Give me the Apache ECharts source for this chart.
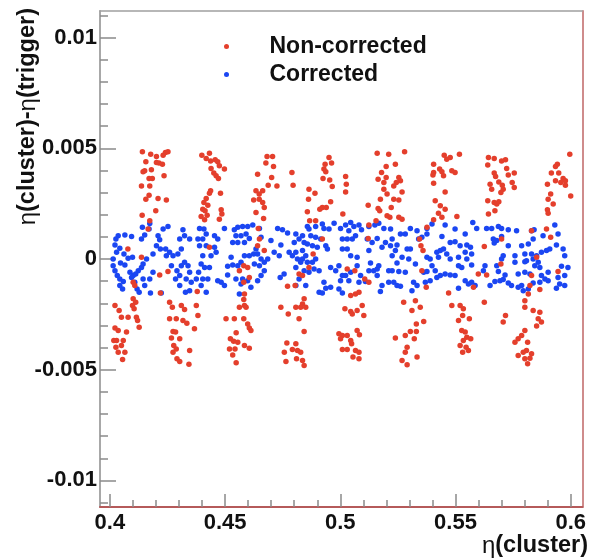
<!DOCTYPE html>
<html>
<head>
<meta charset="utf-8">
<script src="https://cdn.jsdelivr.net/npm/echarts@6/dist/echarts.min.js"></script>
<style>
html,body{margin:0;padding:0;background:#fff;}
#chart{width:589px;height:560px;}
</style>
</head>
<body>
<div id="chart"></div>
<script>
// ---- axis ranges / ticks ----
const xRange = [0.3957, 0.6051];
const yRange = [-0.0112, 0.0112];
const xMajorTicks = [0.4, 0.45, 0.5, 0.55, 0.6];
const xTickLabels = ['0.4', '0.45', '0.5', '0.55', '0.6'];
const xMinorTicks = [0.40,0.41,0.42,0.43,0.44,0.45,0.46,0.47,0.48,0.49,0.50,0.51,0.52,0.53,0.54,0.55,0.56,0.57,0.58,0.59,0.60];
const yMajorTicks = [-0.01, -0.005, 0, 0.005, 0.01];
const yTickLabels = ['-0.01', '-0.005', '0', '0.005', '0.01'];
const yMinorTicks = [-0.011,-0.010,-0.009,-0.008,-0.007,-0.006,-0.005,-0.004,-0.003,-0.002,-0.001,0,0.001,0.002,0.003,0.004,0.005,0.006,0.007,0.008,0.009,0.010,0.011];
const seriesNames = ['Non-corrected', 'Corrected'];

// ---- data: [eta(cluster), eta(cluster)-eta(trigger)] ----
const nonCorrected = [
[0.4141,0.00484],[0.4177,0.00473],[0.4241,0.00481],[0.4252,0.00484],[0.4231,0.00469],[0.4202,0.00463],[0.4213,0.00433],[0.4228,0.00428],[0.4202,0.00436],[0.4156,0.00439],[0.4151,0.00398],[0.4144,0.00394],[0.4180,0.00403],[0.4170,0.00363],[0.4184,0.00363],[0.4235,0.00376],[0.4137,0.00330],[0.4173,0.00330],[0.4156,0.00270],[0.4170,0.00288],[0.4209,0.00273],[0.4245,0.00267],[0.4199,0.00218],[0.4140,0.00198],[0.4173,0.00173],[0.4166,0.00135],[0.4078,0.00045],[0.4137,0.00008],[0.4101,-0.00105],[0.4108,-0.00120],[0.4216,-0.00072],[0.4252,-0.00057],[0.4219,-0.00153],[0.4101,-0.00180],[0.4112,-0.00195],[0.4098,-0.00210],[0.4105,-0.00225],[0.4022,-0.00210],[0.4040,-0.00233],[0.4050,-0.00263],[0.4079,-0.00263],[0.4115,-0.00263],[0.4120,-0.00278],[0.4022,-0.00312],[0.4036,-0.00323],[0.4072,-0.00330],[0.4127,-0.00308],[0.4017,-0.00368],[0.4029,-0.00368],[0.4058,-0.00368],[0.4026,-0.00398],[0.4050,-0.00391],[0.4036,-0.00421],[0.4065,-0.00421],[0.4055,-0.00454],
[0.4259,-0.00195],[0.4271,-0.00218],[0.4310,-0.00210],[0.4324,-0.00228],[0.4259,-0.00270],[0.4288,-0.00270],[0.4317,-0.00278],[0.4334,-0.00290],[0.4274,-0.00327],[0.4285,-0.00330],[0.4267,-0.00357],[0.4303,-0.00360],[0.4277,-0.00391],[0.4288,-0.00406],[0.4346,-0.00413],[0.4274,-0.00421],[0.4291,-0.00451],[0.4303,-0.00463],[0.4343,-0.00475],
[0.4399,0.00469],[0.4432,0.00478],[0.4418,0.00454],[0.4437,0.00443],[0.4457,0.00448],[0.4468,0.00439],[0.4475,0.00421],[0.4439,0.00409],[0.4497,0.00406],[0.4451,0.00388],[0.4461,0.00376],[0.4471,0.00363],[0.4437,0.00308],[0.4432,0.00297],[0.4480,0.00297],[0.4418,0.00273],[0.4408,0.00255],[0.4425,0.00243],[0.4403,0.00225],[0.4413,0.00218],[0.4422,0.00198],[0.4396,0.00192],[0.4483,0.00222],[0.4486,0.00203],[0.4475,0.00180],[0.4411,0.00177],[0.4432,0.00053],[0.4379,-0.00147],[0.4375,-0.00210],[0.4382,-0.00255],[0.4367,-0.00315],
[0.4581,-0.00030],[0.4598,-0.00038],[0.4641,0.00060],[0.4670,0.00038],[0.4605,-0.00083],[0.4562,-0.00053],[0.4581,-0.00105],[0.4584,-0.00158],[0.4581,-0.00183],[0.4584,-0.00210],[0.4562,-0.00218],[0.4591,-0.00218],[0.4504,-0.00270],[0.4540,-0.00270],[0.4581,-0.00270],[0.4598,-0.00293],[0.4605,-0.00312],[0.4612,-0.00323],[0.4548,-0.00333],[0.4523,-0.00360],[0.4537,-0.00372],[0.4555,-0.00376],[0.4584,-0.00391],[0.4605,-0.00403],[0.4519,-0.00406],[0.4543,-0.00406],[0.4533,-0.00433],[0.4548,-0.00469],
[0.4682,0.00463],[0.4706,0.00463],[0.4677,0.00433],[0.4710,0.00418],[0.4641,0.00383],[0.4702,0.00368],[0.4687,0.00333],[0.4725,0.00330],[0.4634,0.00308],[0.4663,0.00308],[0.4648,0.00293],[0.4624,0.00267],[0.4648,0.00270],[0.4663,0.00255],[0.4670,0.00233],[0.4634,0.00210],[0.4667,0.00183],[0.4644,0.00138],[0.4649,0.00090],
[0.4742,-0.00218],[0.4774,-0.00248],[0.4771,-0.00123],[0.4768,-0.00379],[0.4757,-0.00421],[0.4764,-0.00463],
[0.4790,0.00391],[0.4795,0.00333],[0.4951,0.00458],[0.4934,0.00428],[0.4962,0.00433],[0.4929,0.00406],[0.4937,0.00394],[0.4925,0.00363],[0.4954,0.00357],[0.4965,0.00327],[0.4864,0.00315],[0.4890,0.00297],[0.4862,0.00270],[0.4958,0.00258],[0.4922,0.00233],[0.4939,0.00233],[0.4911,0.00225],[0.4857,0.00213],[0.4867,0.00173],[0.4893,0.00173],[0.4922,0.00090],[0.4882,0.00023],[0.4864,-0.00038],[0.4821,-0.00068],[0.4836,-0.00075],
[0.4804,-0.00120],[0.4843,-0.00180],[0.4836,-0.00203],[0.4807,-0.00218],[0.4828,-0.00218],[0.4850,-0.00218],[0.4821,-0.00270],[0.4843,-0.00327],[0.4807,-0.00383],[0.4792,-0.00409],[0.4814,-0.00413],[0.4828,-0.00421],[0.4810,-0.00451],[0.4836,-0.00458],[0.4843,-0.00481],
[0.5011,0.00203],[0.5023,0.00373],[0.5026,0.00338],[0.5023,0.00303],[0.5030,-0.00045],[0.5063,-0.00053],[0.5045,-0.00165],[0.5066,-0.00158],[0.5081,-0.00150],[0.5020,-0.00225],[0.5045,-0.00237],[0.5052,-0.00248],[0.5073,-0.00233],[0.5095,-0.00210],[0.5102,-0.00255],[0.4994,-0.00338],[0.5009,-0.00345],[0.5030,-0.00345],[0.5001,-0.00360],[0.5045,-0.00368],[0.5049,-0.00383],[0.5009,-0.00409],[0.5030,-0.00409],[0.5066,-0.00413],[0.5081,-0.00421],[0.5073,-0.00323],[0.5083,-0.00342],[0.5055,-0.00443],[0.5081,-0.00451],
[0.5160,0.00478],[0.5199,0.00418],[0.5179,0.00391],[0.5164,0.00360],[0.5199,0.00368],[0.5189,0.00345],[0.5189,0.00315],[0.5203,0.00293],[0.5174,0.00270],[0.5121,0.00243],[0.5164,0.00228],[0.5171,0.00218],[0.5203,0.00195],[0.5155,0.00173],[0.5124,0.00153],[0.5121,0.00093],[0.5106,-0.00090],[0.5124,-0.00105],
[0.5210,0.00473],[0.5239,0.00428],[0.5279,0.00484],[0.5254,0.00368],[0.5261,0.00353],[0.5243,0.00345],[0.5232,0.00330],[0.5268,0.00303],[0.5232,0.00270],[0.5254,0.00267],[0.5221,0.00233],[0.5215,0.00188],[0.5254,0.00188],[0.5268,0.00180],
[0.5451,0.00469],[0.5462,0.00451],[0.5477,0.00458],[0.5517,0.00473],[0.5405,0.00428],[0.5431,0.00406],[0.5405,0.00391],[0.5402,0.00379],[0.5441,0.00394],[0.5448,0.00376],[0.5484,0.00398],[0.5498,0.00391],[0.5405,0.00342],[0.5455,0.00303],[0.5412,0.00263],[0.5434,0.00240],[0.5455,0.00225],[0.5426,0.00207],[0.5441,0.00188],[0.5506,0.00192],[0.5405,0.00177],[0.5376,0.00143],
[0.5344,0.00090],[0.5350,0.00060],[0.5359,0.00038],[0.5354,-0.00053],[0.5373,-0.00128],[0.5599,-0.00068],[0.5578,-0.00128],
[0.5275,-0.00195],[0.5326,-0.00188],[0.5311,-0.00233],[0.5347,-0.00218],[0.5362,-0.00282],[0.5330,-0.00293],[0.5304,-0.00327],[0.5330,-0.00327],[0.5282,-0.00345],[0.5239,-0.00357],[0.5321,-0.00360],[0.5290,-0.00398],[0.5282,-0.00421],[0.5333,-0.00443],[0.5268,-0.00458],[0.5290,-0.00478],
[0.5470,-0.00153],[0.5484,-0.00210],[0.5520,-0.00210],[0.5534,-0.00225],[0.5531,-0.00255],[0.5513,-0.00278],[0.5560,-0.00270],[0.5527,-0.00323],[0.5542,-0.00330],[0.5549,-0.00353],[0.5534,-0.00368],[0.5566,-0.00360],[0.5520,-0.00391],[0.5546,-0.00398],[0.5531,-0.00421],[0.5556,-0.00413],
[0.5643,0.00458],[0.5668,0.00454],[0.5700,0.00443],[0.5717,0.00448],[0.5640,0.00424],[0.5722,0.00409],[0.5668,0.00388],[0.5674,0.00373],[0.5729,0.00379],[0.5755,0.00388],[0.5688,0.00348],[0.5650,0.00338],[0.5703,0.00333],[0.5746,0.00345],[0.5657,0.00315],[0.5707,0.00315],[0.5755,0.00323],[0.5697,0.00300],[0.5640,0.00263],[0.5668,0.00255],[0.5679,0.00248],[0.5688,0.00258],[0.5643,0.00203],[0.5671,0.00218],
[0.5996,0.00473],[0.5942,0.00428],[0.5934,0.00418],[0.5916,0.00388],[0.5948,0.00388],[0.5967,0.00363],[0.5977,0.00353],[0.5934,0.00353],[0.5957,0.00345],[0.5899,0.00338],[0.5977,0.00333],[0.5913,0.00293],[0.5902,0.00270],[0.5924,0.00248],[0.5899,0.00222],[0.5902,0.00207],[0.6000,0.00285],
[0.5830,0.00128],[0.5895,0.00135],[0.5913,0.00098],[0.5700,0.00090],[0.5625,0.00057],[0.5852,0.00008],[0.5697,-0.00023],[0.5830,-0.00075],[0.5945,-0.00057],[0.5635,-0.00072],[0.5823,-0.00120],[0.5816,-0.00158],[0.5866,-0.00138],[0.5801,-0.00188],[0.5801,-0.00218],[0.5625,-0.00195],[0.5837,-0.00233],[0.5866,-0.00240],[0.5859,-0.00270],[0.5873,-0.00285],[0.5852,-0.00303],[0.5717,-0.00255],[0.5707,-0.00285],[0.5801,-0.00323],[0.5787,-0.00345],[0.5772,-0.00360],[0.5758,-0.00376],[0.5813,-0.00376],[0.5808,-0.00413],[0.5794,-0.00421],[0.5772,-0.00436],[0.5801,-0.00451],[0.5823,-0.00448],[0.5830,-0.00428],[0.5813,-0.00473]
];

const corrected = [
[0.4036,0.00105],[0.4065,0.00108],[0.4094,0.00102],[0.4022,0.00063],[0.4043,0.00048],[0.4029,0.00030],[0.4061,0.00023],[0.4079,0.00003],[0.4098,0.00008],[0.4014,0.00000],[0.4046,-0.00018],[0.4065,-0.00027],[0.4022,-0.00053],[0.4032,-0.00075],[0.4043,-0.00090],[0.4058,-0.00102],[0.4087,-0.00060],[0.4101,-0.00075],[0.4112,-0.00068],[0.4123,-0.00053],[0.4137,-0.00038],[0.4144,-0.00023],[0.4159,0.00000],[0.4187,0.00023],[0.4137,0.00090],[0.4151,0.00108],[0.4170,0.00135],[0.4141,0.00143],[0.4173,0.00160],[0.4108,-0.00105],[0.4118,-0.00135],[0.4127,-0.00150],[0.4055,-0.00135],[0.4176,-0.00153],[0.4223,-0.00153],[0.4209,0.00105],[0.4216,0.00087],[0.4231,0.00135],[0.4252,0.00147],[0.4219,0.00045],[0.4242,0.00045],[0.4259,0.00030],[0.4274,0.00015],[0.4295,0.00023],[0.4310,0.00045],[0.4303,0.00090],[0.4317,0.00132],[0.4324,0.00105],[0.4346,0.00090],[0.4310,-0.00030],[0.4324,-0.00015],[0.4339,-0.00030],[0.4291,-0.00053],[0.4303,-0.00075],[0.4285,-0.00090],[0.4303,-0.00120],[0.4328,-0.00150],[0.4346,-0.00143],[0.4353,-0.00105],[0.4346,-0.00060],[0.4173,-0.00090],[0.4187,-0.00060],[0.4144,-0.00090],[0.4151,-0.00120],[0.4094,-0.00083],[0.4043,-0.00120],[0.4014,-0.00030],[0.4026,0.00090],[0.4245,0.00015],[0.4202,0.00060],[0.4267,-0.00030],[0.4331,-0.00090],
[0.4389,0.00138],[0.4408,0.00135],[0.4418,0.00113],[0.4403,0.00090],[0.4382,0.00090],[0.4389,0.00060],[0.4418,0.00060],[0.4454,0.00105],[0.4468,0.00090],[0.4497,0.00138],[0.4540,0.00132],[0.4555,0.00143],[0.4576,0.00147],[0.4598,0.00147],[0.4620,0.00153],[0.4649,0.00138],[0.4547,0.00105],[0.4569,0.00105],[0.4591,0.00113],[0.4605,0.00093],[0.4533,0.00075],[0.4555,0.00075],[0.4584,0.00075],[0.4656,0.00098],[0.4699,0.00083],[0.4742,0.00063],[0.4749,0.00132],[0.4728,0.00138],[0.4771,0.00117],[0.4454,0.00053],[0.4461,0.00030],[0.4439,0.00015],[0.4403,0.00015],[0.4396,-0.00023],[0.4411,-0.00038],[0.4432,-0.00038],[0.4385,-0.00060],[0.4375,-0.00090],[0.4403,-0.00090],[0.4425,-0.00090],[0.4468,-0.00098],[0.4483,-0.00105],[0.4497,-0.00120],[0.4511,-0.00072],[0.4511,-0.00033],[0.4533,-0.00027],[0.4555,-0.00030],[0.4569,-0.00015],[0.4584,0.00015],[0.4605,0.00015],[0.4624,0.00023],[0.4641,0.00023],[0.4656,0.00000],[0.4627,-0.00023],[0.4649,-0.00030],[0.4670,-0.00015],[0.4685,0.00000],[0.4713,0.00030],[0.4735,0.00015],[0.4670,-0.00053],[0.4656,-0.00075],[0.4641,-0.00098],[0.4612,-0.00128],[0.4598,-0.00098],[0.4576,-0.00090],[0.4547,-0.00090],[0.4569,-0.00113],[0.4562,-0.00158],[0.4418,-0.00150],[0.4396,-0.00120],[0.4756,-0.00068],[0.4739,-0.00083],[0.4526,0.00008],[0.4634,0.00045],
[0.4807,0.00113],[0.4836,0.00105],[0.4864,0.00135],[0.4857,0.00147],[0.4893,0.00147],[0.4922,0.00158],[0.4973,0.00162],[0.5001,0.00138],[0.5023,0.00153],[0.5045,0.00165],[0.5059,0.00147],[0.5081,0.00153],[0.5092,0.00132],[0.5124,0.00147],[0.5150,0.00153],[0.5167,0.00162],[0.5189,0.00138],[0.4929,0.00138],[0.4951,0.00135],[0.4821,0.00090],[0.4843,0.00075],[0.4800,0.00075],[0.4872,0.00105],[0.4893,0.00098],[0.4915,0.00090],[0.4937,0.00060],[0.4944,0.00045],[0.4900,0.00053],[0.4879,0.00060],[0.4857,0.00068],[0.4836,0.00038],[0.4850,0.00015],[0.4807,0.00030],[0.4778,0.00030],[0.4792,0.00015],[0.4814,0.00000],[0.4836,0.00000],[0.4828,-0.00015],[0.4807,-0.00038],[0.4857,-0.00015],[0.4879,-0.00015],[0.4893,0.00000],[0.4843,-0.00053],[0.4864,-0.00060],[0.4886,-0.00045],[0.4908,-0.00053],[0.4821,-0.00090],[0.4807,-0.00120],[0.4850,-0.00120],[0.5009,0.00090],[0.5030,0.00090],[0.5052,0.00090],[0.5066,0.00105],[0.5037,0.00128],[0.5009,0.00045],[0.5030,0.00045],[0.5045,0.00015],[0.5073,0.00008],[0.5117,0.00090],[0.5138,0.00075],[0.5160,0.00093],[0.5181,0.00053],[0.5196,0.00075],[0.5124,0.00038],[0.4958,-0.00038],[0.4980,-0.00053],[0.4994,-0.00030],[0.5009,-0.00075],[0.5023,-0.00075],[0.5001,-0.00098],[0.5037,-0.00098],[0.5045,-0.00060],[0.5073,-0.00030],[0.5088,-0.00075],[0.4929,-0.00105],[0.4937,-0.00132],[0.4958,-0.00128],[0.4908,-0.00150],[0.4922,-0.00153],[0.4994,-0.00135],[0.5009,-0.00153],[0.5081,-0.00105],[0.5109,-0.00102],[0.5131,-0.00018],[0.5124,-0.00053],[0.5145,-0.00053],[0.5160,-0.00045],[0.5167,-0.00030],[0.5160,-0.00075],[0.5181,-0.00120],[0.5174,-0.00147],
[0.5218,0.00135],[0.5261,0.00113],[0.5282,0.00113],[0.5304,0.00138],[0.5333,0.00128],[0.5376,0.00138],[0.5398,0.00158],[0.5455,0.00153],[0.5498,0.00135],[0.5542,0.00113],[0.5575,0.00165],[0.5592,0.00138],[0.5225,0.00090],[0.5246,0.00063],[0.5218,0.00060],[0.5340,0.00090],[0.5354,0.00098],[0.5376,0.00113],[0.5441,0.00102],[0.5477,0.00075],[0.5498,0.00078],[0.5520,0.00060],[0.5549,0.00063],[0.5565,0.00053],[0.5542,0.00030],[0.5570,0.00023],[0.5239,0.00038],[0.5268,0.00008],[0.5290,0.00045],[0.5304,0.00045],[0.5376,0.00008],[0.5390,0.00000],[0.5419,0.00030],[0.5434,0.00038],[0.5448,0.00045],[0.5462,0.00023],[0.5426,0.00008],[0.5477,0.00000],[0.5513,0.00008],[0.5527,-0.00038],[0.5549,0.00000],[0.5570,-0.00027],[0.5225,0.00015],[0.5246,-0.00018],[0.5297,0.00000],[0.5326,-0.00023],[0.5210,-0.00053],[0.5225,-0.00053],[0.5254,-0.00057],[0.5282,-0.00060],[0.5362,-0.00060],[0.5376,-0.00057],[0.5398,-0.00030],[0.5412,-0.00053],[0.5434,-0.00075],[0.5455,-0.00068],[0.5477,-0.00072],[0.5498,-0.00075],[0.5513,-0.00030],[0.5210,-0.00105],[0.5232,-0.00105],[0.5246,-0.00120],[0.5261,-0.00123],[0.5318,-0.00105],[0.5333,-0.00120],[0.5369,-0.00105],[0.5390,-0.00098],[0.5419,-0.00083],[0.5542,-0.00098],[0.5556,-0.00113],[0.5570,-0.00105],[0.5513,-0.00132],[0.5311,-0.00143],[0.5585,-0.00120],
[0.5635,0.00138],[0.5657,0.00138],[0.5686,0.00147],[0.5700,0.00138],[0.5729,0.00132],[0.5765,0.00128],[0.5931,0.00153],[0.5664,0.00090],[0.5679,0.00083],[0.5700,0.00102],[0.5668,0.00072],[0.5729,0.00060],[0.5830,0.00128],[0.5841,0.00132],[0.5880,0.00105],[0.5837,0.00090],[0.5816,0.00068],[0.5787,0.00060],[0.5945,0.00113],[0.5938,0.00063],[0.5967,0.00045],[0.5909,0.00045],[0.5895,0.00038],[0.5873,0.00030],[0.5707,0.00015],[0.5700,0.00000],[0.5758,0.00015],[0.5801,0.00023],[0.5830,0.00023],[0.5852,0.00015],[0.5808,-0.00008],[0.5837,0.00000],[0.5859,-0.00015],[0.5844,-0.00030],[0.5866,-0.00038],[0.5974,0.00015],[0.5628,-0.00030],[0.5679,-0.00030],[0.5758,-0.00015],[0.5801,-0.00012],[0.5621,-0.00053],[0.5686,-0.00057],[0.5715,-0.00072],[0.5772,-0.00068],[0.5801,-0.00060],[0.5823,-0.00068],[0.5873,-0.00075],[0.5902,-0.00060],[0.5960,-0.00033],[0.5988,-0.00038],[0.5671,-0.00102],[0.5650,-0.00120],[0.5693,-0.00098],[0.5729,-0.00108],[0.5743,-0.00120],[0.5772,-0.00128],[0.5794,-0.00143],[0.5787,-0.00120],[0.5816,-0.00135],[0.5837,-0.00108],[0.5866,-0.00105],[0.5888,-0.00090],[0.5902,-0.00098],[0.5945,-0.00083],[0.5974,-0.00075],[0.5952,-0.00113],[0.5974,-0.00120],[0.5938,-0.00132],[0.5707,-0.00093]
];

// ---- styling ----
const FONT = '"Liberation Sans", Arial, Helvetica, sans-serif';
const RED = '#e43f2c';
const BLUE = '#1b46f2';
const TICK = '#8a8a8a';

const chart = echarts.init(document.getElementById('chart'), null, {renderer: 'canvas'});

function lbl(values, labels) {
  return v => {
    for (let i = 0; i < values.length; i++) if (Math.abs(values[i] - v) < 1e-9) return labels[i];
    return '';
  };
}

const baseAxis = {
  splitLine: {show: false},
  axisLabel: {show: false},
  axisTick: {show: false},
  axisLine: {show: false, onZero: false}
};

chart.setOption({
  animation: false,
  backgroundColor: '#ffffff',
  grid: {left: 100, top: 11, width: 484, height: 496, containLabel: false},
  legend: {
    orient: 'vertical',
    left: 219,
    top: 30,
    itemWidth: 76,
    itemHeight: 5,
    itemGap: 5,
    icon: 'circle',
    textStyle: {fontFamily: FONT, fontWeight: 'bold', fontSize: 23, color: '#111'},
    data: seriesNames
  },
  xAxis: [
    Object.assign({}, baseAxis, {
      type: 'value', min: xRange[0], max: xRange[1], position: 'bottom',
      axisLine: {show: true, onZero: false, lineStyle: {color: '#b55a5a', width: 2}},
      axisTick: {show: true, inside: true, length: 13, customValues: xMajorTicks, lineStyle: {color: TICK, width: 1.5}},
      axisLabel: {show: true, customValues: xMajorTicks, formatter: lbl(xMajorTicks, xTickLabels), margin: 5,
        fontFamily: FONT, fontWeight: 'bold', fontSize: 22, color: '#111'}
    }),
    Object.assign({}, baseAxis, {
      type: 'value', min: xRange[0], max: xRange[1], position: 'bottom',
      axisTick: {show: true, inside: true, length: 7, customValues: xMinorTicks, lineStyle: {color: TICK, width: 1.5}}
    }),
    Object.assign({}, baseAxis, {
      type: 'value', min: xRange[0], max: xRange[1], position: 'top',
      axisLine: {show: true, onZero: false, lineStyle: {color: '#a0a0a0', width: 1.5}}
    })
  ],
  yAxis: [
    Object.assign({}, baseAxis, {
      type: 'value', min: yRange[0], max: yRange[1], position: 'left',
      axisLine: {show: true, onZero: false, lineStyle: {color: '#a8a8a8', width: 2}},
      axisTick: {show: true, inside: true, length: 16, customValues: yMajorTicks, lineStyle: {color: TICK, width: 1.5}},
      axisLabel: {show: true, customValues: yMajorTicks, formatter: lbl(yMajorTicks, yTickLabels), margin: 3,
        fontFamily: FONT, fontWeight: 'bold', fontSize: 22, color: '#111'}
    }),
    Object.assign({}, baseAxis, {
      type: 'value', min: yRange[0], max: yRange[1], position: 'left',
      axisTick: {show: true, inside: true, length: 8, customValues: yMinorTicks, lineStyle: {color: TICK, width: 1.5}}
    }),
    Object.assign({}, baseAxis, {
      type: 'value', min: yRange[0], max: yRange[1], position: 'right',
      axisLine: {show: true, onZero: false, lineStyle: {color: '#cf8c8c', width: 2}}
    })
  ],
  series: [
    {name: seriesNames[0], type: 'scatter', data: nonCorrected, symbolSize: 5.5, z: 3,
     itemStyle: {color: RED, opacity: 1}, xAxisIndex: 0, yAxisIndex: 0},
    {name: seriesNames[1], type: 'scatter', data: corrected, symbolSize: 5.5, z: 2,
     itemStyle: {color: BLUE, opacity: 1}, xAxisIndex: 0, yAxisIndex: 0}
  ],
  graphic: [
    {type: 'text', right: 1, top: 534,
     style: {text: '{g|η}(cluster)', font: 'bold 23.5px ' + FONT, fill: '#111',
       rich: {g: {fontFamily: FONT, fontWeight: 'normal', fontSize: 24, fill: '#111'}}}},
    {type: 'text', x: 28, y: 8, rotation: Math.PI / 2,
     style: {text: '{g|η}(cluster)-{g|η}(trigger)', font: 'bold 23.5px ' + FONT, fill: '#111',
       align: 'right', verticalAlign: 'middle', textAlign: 'right', textVerticalAlign: 'middle',
       rich: {g: {fontFamily: FONT, fontWeight: 'normal', fontSize: 24, fill: '#111'}}}}
  ]
});
</script>
</body>
</html>
